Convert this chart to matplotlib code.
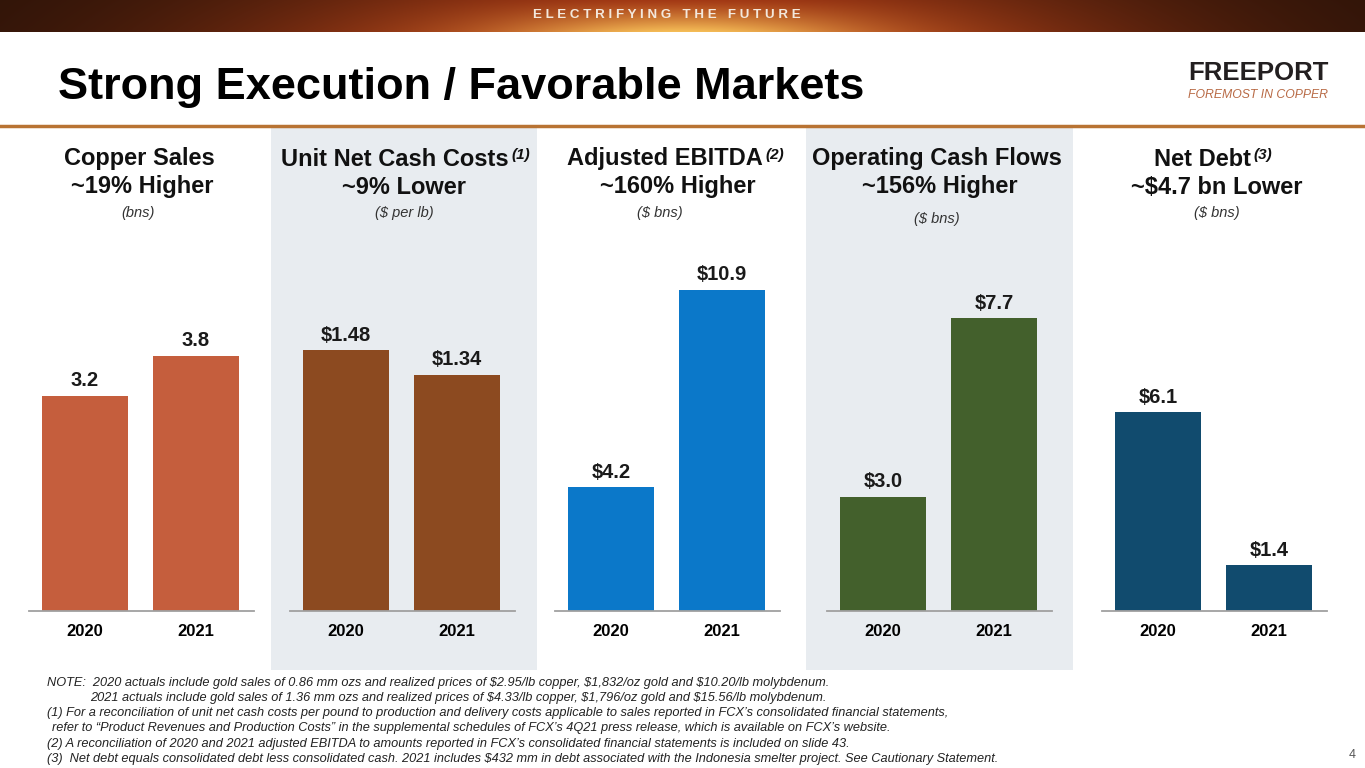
import numpy as np
import matplotlib.pyplot as plt
from matplotlib import font_manager
from matplotlib.patches import Rectangle

W, H = 1365, 768

years = ["2020", "2021"]
copper_sales = [3.2, 3.8]
unit_costs = [1.48, 1.34]
ebitda = [4.2, 10.9]
op_cash_flows = [3.0, 7.7]
net_debt = [6.1, 1.4]

titles = ["Copper Sales", "Unit Net Cash Costs", "Adjusted EBITDA", "Operating Cash Flows", "Net Debt"]
notes_sup = ["", "(1)", "(2)", "", "(3)"]
changes = ["~19% Higher", "~9% Lower", "~160% Higher", "~156% Higher", "~$4.7 bn Lower"]
units = ["(bns)", "($ per lb)", "($ bns)", "($ bns)", "($ bns)"]

footnotes = [
    "NOTE:  2020 actuals include gold sales of 0.86 mm ozs and realized prices of $2.95/lb copper, $1,832/oz gold and $10.20/lb molybdenum.",
    "2021 actuals include gold sales of 1.36 mm ozs and realized prices of $4.33/lb copper, $1,796/oz gold and $15.56/lb molybdenum.",
    "(1) For a reconciliation of unit net cash costs per pound to production and delivery costs applicable to sales reported in FCX\u2019s consolidated financial statements,",
    "refer to \u201cProduct Revenues and Production Costs\u201d in the supplemental schedules of FCX\u2019s 4Q21 press release, which is available on FCX\u2019s website.",
    "(2) A reconciliation of 2020 and 2021 adjusted EBITDA to amounts reported in FCX\u2019s consolidated financial statements is included on slide 43.",
    "(3)  Net debt equals consolidated debt less consolidated cash. 2021 includes $432 mm in debt associated with the Indonesia smelter project. See Cautionary Statement.",
]

# ---- styling / layout ----
installed = {f.name for f in font_manager.fontManager.ttflist}
SANS = "Liberation Sans" if "Liberation Sans" in installed else "DejaVu Sans"
NARROW = "Liberation Sans Narrow" if "Liberation Sans Narrow" in installed else SANS
plt.rcParams["font.family"] = SANS

panel_data = [copper_sales, unit_costs, ebitda, op_cash_flows, net_debt]
fmts = ["{:.1f}", "${:.2f}", "${:.1f}", "${:.1f}", "${:.1f}"]
colors = ["#C55E3D", "#8C4A20", "#0B78C9", "#43602C", "#114B6E"]
ymax = [5.37, 2.05, 12.24, 9.5, 11.07]
ax_left = [29, 290, 555, 827, 1102]
head_cx = [139, 395, 665, 937, 1202]
change_cx = [142, 404, 678, 940, 1217]
unit_cx = [138, 404, 660, 937, 1217]
unit_y = [213, 213, 213, 219, 213]

fig = plt.figure(figsize=(W / 100, H / 100), dpi=100)
renderer = fig.canvas.get_renderer()


def fx(x):
    return x / W


def fy(y):
    return 1 - y / H


def fit_text(x, y, s, width, **kw):
    t = fig.text(fx(x), fy(y), s, **kw)
    w = t.get_window_extent(renderer).width
    t.set_fontsize(t.get_fontsize() * width / w)
    return t


# banner gradient
bg = fig.add_axes([0, fy(32), 1, 32 / H])
xx, yy = np.meshgrid(np.arange(W), np.arange(32))
glow = np.exp(-((xx - 683) / 430.0) ** 2) * (0.75 + 0.25 * yy / 31)
core = np.exp(-((xx - 683) / 170.0) ** 2) * (yy / 31) ** 1.2
dark = np.array([0.16, 0.07, 0.03])
orange = np.array([0.80, 0.28, 0.10])
yellow = np.array([0.96, 0.74, 0.34])
img = dark + glow[..., None] * (orange - dark) + core[..., None] * (yellow - orange)
bg.imshow(np.clip(img, 0, 1), aspect="auto", extent=[0, W, 32, 0])
bg.axis("off")
fit_text(667, 15, " ".join("ELECTRIFYING THE FUTURE"), 266,
         family=NARROW, fontsize=12, fontweight="bold", color="#F3E8DC",
         ha="center", va="center")

# title, logo, rule
fig.text(fx(58), fy(88), "Strong Execution / Favorable Markets", fontsize=32.5,
         fontweight="bold", ha="left", va="center", color="black")
fit_text(1258, 73, "FREEPORT", 140, family=NARROW, fontweight="bold", fontsize=20,
         color="#231F20", ha="center", va="center")
fit_text(1258, 95, "FOREMOST IN COPPER", 140, style="italic", fontsize=9,
         color="#B86A45", ha="center", va="center")
fig.add_artist(plt.Line2D([0, 1], [fy(126), fy(126)], color="#B87333", lw=2.5,
                          transform=fig.transFigure))

# shaded panels
for x0, x1 in [(271, 537), (806, 1073)]:
    fig.add_artist(Rectangle((fx(x0), fy(670)), fx(x1 - x0), (670 - 128) / H,
                             transform=fig.transFigure, facecolor="#E8ECF0",
                             edgecolor="none", zorder=0))

# bar panels
for i in range(5):
    ax = fig.add_axes([fx(ax_left[i]), fy(611), fx(225), 361 / H])
    ax.set_facecolor("none")
    xs = np.arange(len(years))
    bars = ax.bar(xs, panel_data[i], width=0.78, color=colors[i], zorder=2)
    for b, v in zip(bars, panel_data[i]):
        ax.annotate(fmts[i].format(v), (b.get_x() + b.get_width() / 2, v),
                    xytext=(0, 4), textcoords="offset points", ha="center",
                    va="bottom", fontsize=14.5, fontweight="bold", color="#1A1A1A")
    ax.set_xlim(-56 / 111, 169 / 111)
    ax.set_ylim(0, ymax[i])
    ax.set_xticks(xs, years, fontsize=12, fontweight="bold")
    ax.tick_params(axis="x", length=0, pad=9)
    ax.set_yticks([])
    for s in ["top", "left", "right"]:
        ax.spines[s].set_visible(False)
    ax.spines["bottom"].set_color("#A0A0A0")
    ax.spines["bottom"].set_linewidth(1.3)

    t = fig.text(fx(head_cx[i]), fy(159), titles[i], fontsize=17, fontweight="bold",
                 ha="center", va="center", color="#111111")
    if notes_sup[i]:
        ext = t.get_window_extent(renderer)
        fig.text((ext.x1 + 3) / W, ext.y1 / H, notes_sup[i], fontsize=11,
                 fontweight="bold", style="italic", ha="left", va="top", color="#111111")
    fig.text(fx(change_cx[i]), fy(187), changes[i], fontsize=17, fontweight="bold",
             ha="center", va="center", color="#111111")
    fig.text(fx(unit_cx[i]), fy(unit_y[i]), units[i], fontsize=10.5, style="italic",
             ha="center", va="center", color="#333333")

# footnotes
foot_x = [47, 90, 47, 52, 47, 47]
foot_y = [683, 698, 713, 728, 744, 759]
t0 = fit_text(foot_x[0], foot_y[0], footnotes[0], 782, family=NARROW, style="italic",
              fontsize=9, color="#222222", ha="left", va="center")
fs = t0.get_fontsize()
for s, x, y in zip(footnotes[1:], foot_x[1:], foot_y[1:]):
    fig.text(fx(x), fy(y), s, family=NARROW, style="italic", fontsize=fs,
             color="#222222", ha="left", va="center")
fig.text(fx(1352), fy(755), "4", fontsize=9, color="#555555", ha="center", va="center")

fig.savefig("out.png", dpi=100)
